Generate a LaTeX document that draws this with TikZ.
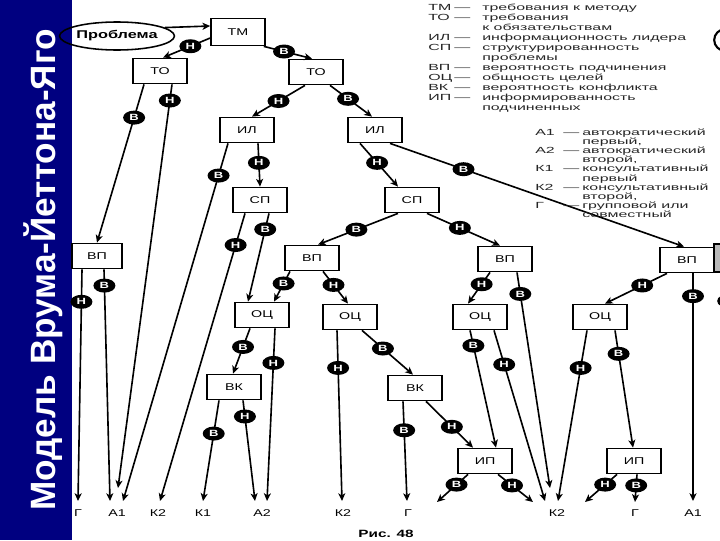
\documentclass[tikz,border=0pt]{standalone}
\usepackage{fontspec}
\setmainfont{Liberation Sans}
\newfontfamily\stfont[FakeStretch=1.45]{Liberation Sans}
\newfontfamily\lgfam[FakeStretch=1.8]{Liberation Sans}
\usetikzlibrary{arrows.meta,shapes.geometric}
\definecolor{barblue}{RGB}{0,0,128}
\newcommand\bxfont{\stfont\fontsize{7}{8}\selectfont}
\newcommand\lbfont{\stfont\bfseries\fontsize{6.4}{7}\selectfont}
\newcommand\pbfont{\stfont\bfseries\fontsize{8}{9}\selectfont}
\newcommand\fgfont{\stfont\bfseries\fontsize{7.5}{8}\selectfont}
\newcommand\ttlfont{\bfseries\fontsize{25}{25}\selectfont}
\tikzset{
  box/.style={draw, line width=1.1pt, fill=white, minimum width=1.35cm, minimum height=0.63cm, inner sep=0pt, font=\bxfont},
  lab/.style={ellipse, fill=black, text=white, minimum width=0.55cm, minimum height=0.35cm, inner sep=0pt, font=\lbfont},
  arr/.style={line width=1.15pt, -{Stealth[length=5.5pt,width=5pt,inset=1.5pt]}},
  fin/.style={font=\bxfont, inner sep=0pt},
  leg/.style={inner sep=0pt, text=black!85, anchor=base west}
}
\begin{document}
\begin{tikzpicture}[x=0.025cm,y=-0.025cm]
\clip (0,0) rectangle (720,540);
\fill[white] (0,0) rectangle (720,540);
\fill[barblue] (0,0) rectangle (72,540);
\node[rotate=90, anchor=base, inner sep=0pt, text=white, font=\ttlfont] (title) at (55,270) {Модель Врума-Йеттона-Яго};

% edge artifacts at the right border
\draw[line width=1.5pt] (725,40) circle [radius=0.27cm];
\draw[line width=1pt, fill=gray!55] (714,244) rectangle (730,272);
\fill (728,301) ellipse [x radius=0.27cm, y radius=0.17cm];

% nodes
\node[ellipse, draw, line width=1.1pt, minimum width=2.3cm, minimum height=0.7cm, inner sep=0pt, font=\pbfont] (prob) at (117,36) {Проблема};
\node[box, minimum height=0.68cm] (TM) at (238,32) {ТМ};
\node[box] (TOa) at (160,71) {ТО};
\node[box] (TOb) at (316,72) {ТО};
\node[box] (ILa) at (247,130) {ИЛ};
\node[box] (ILb) at (375,130) {ИЛ};
\node[box] (SPa) at (260,200) {СП};
\node[box] (SPb) at (412,200) {СП};
\node[box, minimum width=1.25cm] (VPa) at (97,256) {ВП};
\node[box] (VPb) at (312,258) {ВП};
\node[box] (VPc) at (505,259) {ВП};
\node[box] (VPd) at (687,260) {ВП};
\node[box] (OCa) at (262,315) {ОЦ};
\node[box] (OCb) at (350,317) {ОЦ};
\node[box] (OCc) at (480,317) {ОЦ};
\node[box] (OCd) at (600,317) {ОЦ};
\node[box] (VKa) at (234,387) {ВК};
\node[box] (VKb) at (415,388) {ВК};
\node[box] (IPa) at (485,461) {ИП};
\node[box] (IPb) at (634,461) {ИП};

% final decisions
\node[fin] (rG1) at (78,513) {Г};
\node[fin] (rA1a) at (117,513) {А1};
\node[fin] (rK2a) at (158,513) {К2};
\node[fin] (rK1) at (203,513) {К1};
\node[fin] (rA2) at (262,513) {А2};
\node[fin] (rK2b) at (343,513) {К2};
\node[fin] (rG2) at (408,513) {Г};
\node[fin] (rK2c) at (557,513) {К2};
\node[fin] (rG3) at (635,513) {Г};
\node[fin] (rA1b) at (693,513) {А1};
\node[inner sep=0pt, font=\fgfont] (fig) at (386,534) {Рис. 48};

\coordinate (eG1) at (78,501);
\coordinate (eA1a) at (110,501);
\coordinate (eA1b) at (118,488);
\coordinate (eA1c) at (123,501);
\coordinate (eK2a) at (160,501);
\coordinate (eK1) at (203,501);
\coordinate (eA2a) at (255,501);
\coordinate (eA2b) at (267,501);
\coordinate (eK2b) at (342,501);
\coordinate (eG2) at (407,501);
\coordinate (eX1) at (437,502);
\coordinate (eK2c) at (533,502);
\coordinate (eK2d) at (545,501);
\coordinate (eK2e) at (550,488);
\coordinate (eK2f) at (558,501);
\coordinate (eK2g) at (585,502);
\coordinate (eG3) at (635,502);
\coordinate (eA1d) at (693,501);

% connectors
\draw[arr] (prob.10) -- ([shift={(0,-6)}]TM.west);
\draw[arr] ([shift={(0,6)}]TM.west) -- node[lab,pos=.42]{Н} ([shift={(3,0)}]TOa.north);
\draw[arr] ([shift={(-2,0)}]TM.south east) -- node[lab,pos=.42]{В} ([shift={(-4,0)}]TOb.north);
\draw[arr] ([shift={(-16,0)}]TOa.south) -- node[lab,pos=.21]{В} (VPa.north);
\draw[arr] ([shift={(12,0)}]TOa.south) -- node[lab,pos=.04]{Н} (eA1b);
\draw[arr] ([shift={(-11,0)}]TOb.south) -- node[lab,pos=.5]{Н} ([shift={(5,0)}]ILa.north);
\draw[arr] ([shift={(14,0)}]TOb.south) -- node[lab,pos=.43]{В} ([shift={(-3,0)}]ILb.north);
\draw[arr] ([shift={(-19,0)}]ILa.south) -- node[lab,pos=.09]{В} (eA1c);
\draw[arr] ([shift={(11,0)}]ILa.south) -- node[lab,pos=.45]{Н} (SPa.north);
\draw[arr] ([shift={(-15,0)}]ILb.south) -- node[lab,pos=.45]{Н} ([shift={(-14,0)}]SPb.north);
\draw[arr] ([shift={(15,0)}]ILb.south) -- node[lab,pos=.25]{В} ([shift={(-3,0)}]VPd.north);
\draw[arr] ([shift={(-15,0)}]SPa.south) -- node[lab,pos=.11]{Н} (eK2a);
\draw[arr] ([shift={(9,0)}]SPa.south) -- node[lab,pos=.18]{В} ([shift={(-14,0)}]OCa.north);
\draw[arr] ([shift={(-14,0)}]SPb.south) -- node[lab,pos=.52]{В} ([shift={(6,0)}]VPb.north);
\draw[arr] ([shift={(15,0)}]SPb.south) -- node[lab,pos=.45]{Н} ([shift={(-5,0)}]VPc.north);
\draw[arr] ([shift={(-15,0)}]VPa.south) -- node[lab,pos=.14]{Н} (eG1);
\draw[arr] ([shift={(7,0)}]VPa.south) -- node[lab,pos=.07]{В} (eA1a);
\draw[arr] ([shift={(-22,0)}]VPb.south) -- node[lab,pos=.4]{В} ([shift={(12,0)}]OCa.north);
\draw[arr] ([shift={(11,0)}]VPb.south) -- node[lab,pos=.42]{Н} ([shift={(-2,0)}]OCb.north);
\draw[arr] ([shift={(-15,0)}]VPc.south) -- node[lab,pos=.38]{Н} ([shift={(-12,0)}]OCc.north);
\draw[arr] ([shift={(12,0)}]VPc.south) -- node[lab,pos=.1]{В} (eK2e);
\draw[arr] ([shift={(-20,0)}]VPd.south) -- node[lab,pos=.4]{Н} ([shift={(5,0)}]OCd.north);
\draw[arr] ([shift={(6,0)}]VPd.south) -- node[lab,pos=.1]{В} (eA1d);
\draw[arr] ([shift={(-12,0)}]OCa.south) -- node[lab,pos=.41]{В} ([shift={(-1,0)}]VKa.north);
\draw[arr] ([shift={(13,0)}]OCa.south) -- node[lab,pos=.2]{Н} (eA2b);
\draw[arr] ([shift={(-15,0)}]VKa.south) -- node[lab,pos=.33]{В} (eK1);
\draw[arr] ([shift={(9,0)}]VKa.south) -- node[lab,pos=.16]{Н} (eA2a);
\draw[arr] ([shift={(-13,0)}]OCb.south) -- node[lab,pos=.22]{Н} (eK2b);
\draw[arr] ([shift={(12,0)}]OCb.south) -- node[lab,pos=.41]{В} ([shift={(-2,0)}]VKb.north);
\draw[arr] ([shift={(-12,0)}]VKb.south) -- node[lab,pos=.29]{В} (eG2);
\draw[arr] ([shift={(11,0)}]VKb.south) -- node[lab,pos=.55]{Н} ([shift={(-12,0)}]IPa.north);
\draw[arr] ([shift={(-10,0)}]OCc.south) -- node[lab,pos=.13]{В} ([shift={(11,0)}]IPa.north);
\draw[arr] ([shift={(14,0)}]OCc.south) -- node[lab,pos=.2]{Н} (eK2d);
\draw[arr] ([shift={(-13,0)}]OCd.south) -- node[lab,pos=.22]{Н} (eK2f);
\draw[arr] ([shift={(15,0)}]OCd.south) -- node[lab,pos=.2]{В} ([shift={(-1,0)}]IPb.north);
\draw[arr] ([shift={(-17,0)}]IPa.south) -- node[lab,pos=.37]{В} (eX1);
\draw[arr] ([shift={(13,0)}]IPa.south) -- node[lab,pos=.4]{Н} (eK2c);
\draw[arr] ([shift={(-17,0)}]IPb.south) -- node[lab,pos=.37]{Н} (eK2g);
\draw[arr] ([shift={(3,0)}]IPb.south) -- node[lab,pos=.4]{В} (eG3);

% legends
\node[leg, font=\lgfam\fontsize{6.3}{7.15}\selectfont] (leg1) at (428,10) {%
\begin{tabular}[t]{@{}p{0.65cm}@{}p{0.7cm}@{}l@{}}
ТМ & — & требования к методу\\
ТО & — & требования\\
 & & к обязательствам\\
ИЛ & — & информационность лидера\\
СП & — & структурированность\\
 & & проблемы\\
ВП & — & вероятность подчинения\\
ОЦ & — & общность целей\\
ВК & — & вероятность конфликта\\
ИП & — & информированность\\
 & & подчиненных
\end{tabular}};
\node[leg, font=\lgfam\fontsize{6.3}{6.25}\selectfont] (leg2) at (535,135) {%
\begin{tabular}[t]{@{}p{0.7cm}@{}p{0.475cm}@{}l@{}}
А1 & — & автократический\\
 & & первый,\\
А2 & — & автократический\\
 & & второй,\\
К1 & — & консультативный\\
 & & первый\\
К2 & — & консультативный\\
 & & второй,\\
Г & — & групповой или\\
 & & совместный
\end{tabular}};
\end{tikzpicture}
\end{document}
